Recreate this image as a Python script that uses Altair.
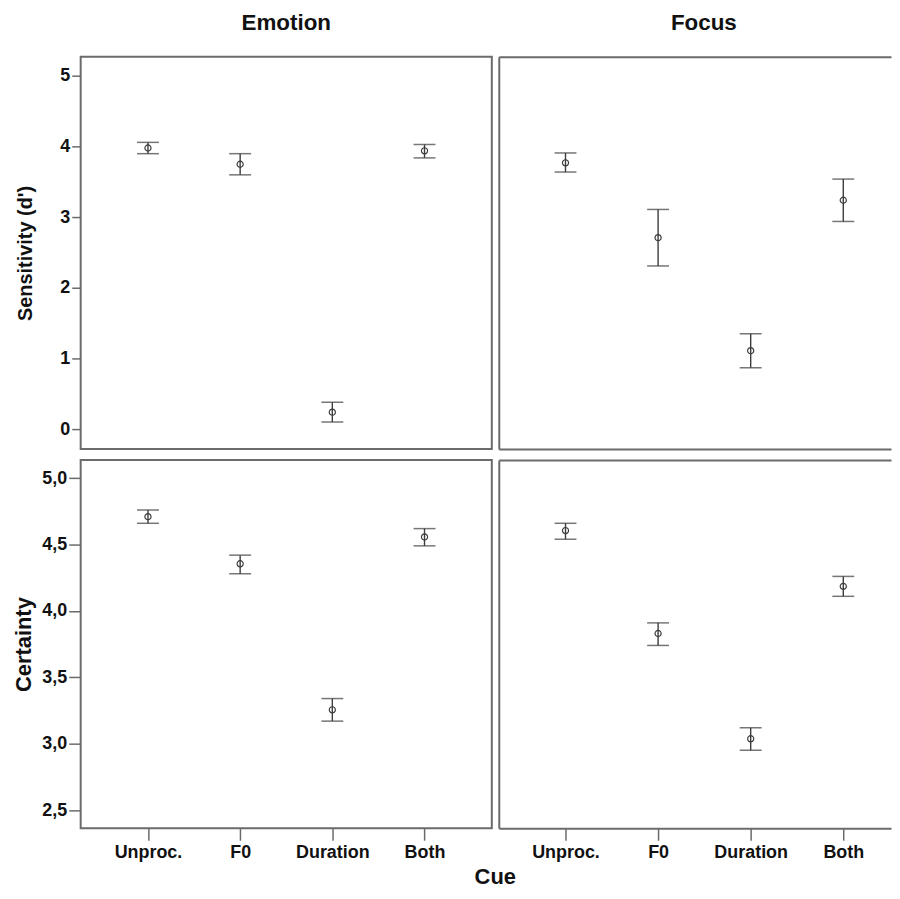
import altair as alt
import pandas as pd

# ---- data ----
cues = ["Unproc.", "F0", "Duration", "Both"]

emotion_sens_mean = [3.98, 3.75, 0.24, 3.94]
emotion_sens_lo = [3.90, 3.60, 0.10, 3.84]
emotion_sens_hi = [4.06, 3.90, 0.38, 4.03]

focus_sens_mean = [3.77, 2.71, 1.11, 3.24]
focus_sens_lo = [3.64, 2.31, 0.87, 2.94]
focus_sens_hi = [3.91, 3.11, 1.35, 3.54]

emotion_cert_mean = [4.71, 4.355, 3.255, 4.557]
emotion_cert_lo = [4.66, 4.28, 3.17, 4.49]
emotion_cert_hi = [4.76, 4.42, 3.34, 4.62]

focus_cert_mean = [4.605, 3.83, 3.037, 4.185]
focus_cert_lo = [4.54, 3.74, 2.95, 4.11]
focus_cert_hi = [4.66, 3.91, 3.12, 4.26]

sens_ticks = [0, 1, 2, 3, 4, 5]
cert_ticks = [2.5, 3.0, 3.5, 4.0, 4.5, 5.0]

FONT = "Liberation Sans"
MARK = "#3c3c3c"
FRAME = "#6b6b6b"
TEXT = "#111111"
LABEL_SIZE = 18


def panel(mean, lo, hi, *, left, bottom, ydomain, yticks, width, height,
          xpad, xalign, ytitle=None, ytitle_size=20, ytitle_pad=10,
          ytick_size=9, label_expr=None, header=None, header_dx=0, xtitle=None):
    df = pd.DataFrame({"cue": cues, "mean": mean, "lo": lo, "hi": hi})
    base = alt.Chart(df)
    xscale = alt.Scale(type="point", domain=cues, padding=xpad, align=xalign)
    yscale = alt.Scale(domain=ydomain, nice=False, zero=False)

    # x axis (bottom)
    if bottom:
        xkw = dict(labels=True, labelAngle=0, labelFont=FONT, labelFontSize=LABEL_SIZE,
                   labelFontWeight="bold", labelColor=TEXT, labelPadding=3,
                   ticks=True, tickSize=12, tickColor=FRAME, tickWidth=1.5,
                   domain=not left, domainColor=FRAME, domainWidth=2,
                   grid=False, orient="bottom")
        if xtitle:
            xkw.update(title=xtitle, titleFont=FONT, titleFontSize=22,
                       titleFontWeight="bold", titleColor=TEXT,
                       titleX=416, titlePadding=5)
        else:
            xkw.update(title=None)
        xaxis = alt.Axis(**xkw)
    elif not left:
        xaxis = alt.Axis(labels=False, ticks=False, domain=True, domainColor=FRAME,
                         domainWidth=2, grid=False, title=None, orient="bottom")
    else:
        xaxis = None

    if left:
        ykw = dict(values=yticks, labelFont=FONT, labelFontSize=LABEL_SIZE,
                   labelFontWeight="bold", labelColor=TEXT, labelPadding=2,
                   tickSize=ytick_size, tickColor=FRAME, tickWidth=1.5,
                   domain=False, grid=False, title=ytitle, titleFont=FONT,
                   titleFontSize=ytitle_size, titleFontWeight="bold",
                   titleColor=TEXT, titlePadding=ytitle_pad, orient="left")
        if label_expr:
            ykw["labelExpr"] = label_expr
        yaxis = alt.Axis(**ykw)
    else:
        yaxis = alt.Axis(labels=False, ticks=False, domain=True, domainColor=FRAME,
                         domainWidth=2, grid=False, title=None, orient="left")

    rule = base.mark_rule(color=MARK, strokeWidth=1.4).encode(
        x=alt.X("cue:N", scale=xscale, sort=cues, axis=xaxis),
        y=alt.Y("lo:Q", scale=yscale, axis=yaxis),
        y2="hi:Q",
    )
    cap_lo = base.mark_tick(color=MARK, size=22, thickness=1.5, orient="horizontal").encode(
        x=alt.X("cue:N", scale=xscale, sort=cues, axis=None),
        y=alt.Y("lo:Q", scale=yscale, axis=None),
    )
    cap_hi = base.mark_tick(color=MARK, size=22, thickness=1.5, orient="horizontal").encode(
        x=alt.X("cue:N", scale=xscale, sort=cues, axis=None),
        y=alt.Y("hi:Q", scale=yscale, axis=None),
    )
    if left:
        top_axis = None
    else:
        top_axis = alt.Axis(orient="top", labels=False, ticks=False, domain=True,
                            domainColor=FRAME, domainWidth=2, grid=False, title=None)
    pts = base.mark_point(shape="circle", filled=False, size=38, color=MARK,
                          strokeWidth=1.2, opacity=1).encode(
        x=alt.X("cue:N", scale=xscale, sort=cues, axis=top_axis),
        y=alt.Y("mean:Q", scale=yscale, axis=None),
    )

    props = dict(width=width, height=height)
    if left:
        props["view"] = alt.ViewBackground(stroke=FRAME, strokeWidth=2)
    else:
        props["view"] = alt.ViewBackground(stroke="transparent")
    if header:
        props["title"] = alt.TitleParams(header, font=FONT, fontSize=22.5,
                                         fontWeight="bold", color=TEXT,
                                         anchor="middle", frame="group",
                                         offset=22, dx=header_dx)
    return (
        alt.layer(rule, cap_lo, cap_hi, pts)
        .properties(**props)
        .resolve_axis(x="independent", y="independent")
    )


W_LEFT, W_RIGHT = 413, 394
H_TOP, H_BOT = 394, 370
sens_domain = [-0.282, 5.272]
cert_domain = [2.363, 5.137]
comma_expr = "replace(format(datum.value, '.1f'), '.', ',')"

tl = panel(emotion_sens_mean, emotion_sens_lo, emotion_sens_hi, left=True, bottom=False,
           ydomain=sens_domain, yticks=sens_ticks, width=W_LEFT, height=H_TOP,
           xpad=0.73, xalign=0.5, ytitle="Sensitivity (d')", ytitle_size=20,
           ytitle_pad=24, ytick_size=9, header="Emotion")
tr = panel(focus_sens_mean, focus_sens_lo, focus_sens_hi, left=False, bottom=False,
           ydomain=sens_domain, yticks=sens_ticks, width=W_RIGHT, height=H_TOP,
           xpad=0.618, xalign=0.583, header="Focus", header_dx=9)
bl = panel(emotion_cert_mean, emotion_cert_lo, emotion_cert_hi, left=True, bottom=True,
           ydomain=cert_domain, yticks=cert_ticks, width=W_LEFT, height=H_BOT,
           xpad=0.73, xalign=0.5, ytitle="Certainty", ytitle_size=22,
           ytitle_pad=6, ytick_size=12, label_expr=comma_expr, xtitle="Cue")
br = panel(focus_cert_mean, focus_cert_lo, focus_cert_hi, left=False, bottom=True,
           ydomain=cert_domain, yticks=cert_ticks, width=W_RIGHT, height=H_BOT,
           xpad=0.618, xalign=0.583)

chart = alt.ConcatChart(
    concat=[tl, tr, bl, br],
    columns=2,
    spacing={"row": 11, "column": 7},
    bounds="flush",
).resolve_scale(x="independent", y="independent").properties(
    padding={"left": 3, "top": 1, "right": 0, "bottom": 0},
    background="white",
).configure_view(stroke="transparent")

chart.save("out.html", embed_options={"renderer": "svg", "actions": False})
